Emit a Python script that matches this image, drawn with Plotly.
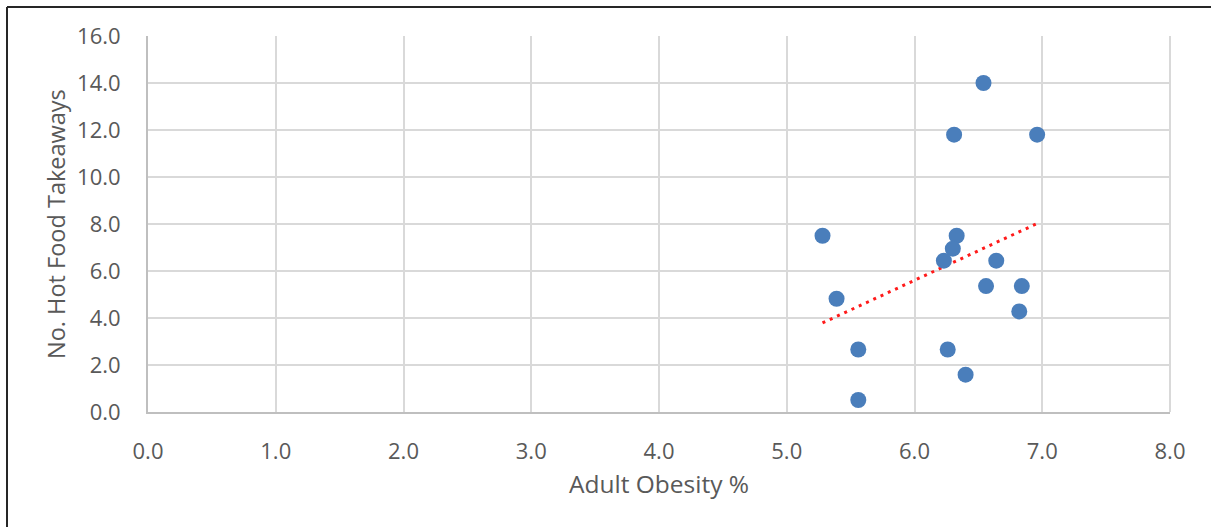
import numpy as np
import plotly.graph_objects as go

# Adult obesity (%) against number of hot food takeaways, one point per area
obesity = [6.54, 6.31, 6.96, 5.28, 6.33, 6.30, 6.23, 6.64,
           5.39, 6.56, 6.84, 6.82, 5.56, 6.26, 6.40, 5.56]
takeaways = [14.0, 11.8, 11.8, 7.5, 7.5, 6.95, 6.44, 6.44,
             4.82, 5.36, 5.36, 4.28, 2.66, 2.66, 1.59, 0.51]

x_ticks = [0, 1, 2, 3, 4, 5, 6, 7, 8]
y_ticks = [0, 2, 4, 6, 8, 10, 12, 14, 16]

# least-squares linear trend across the observed x span
slope, intercept = np.polyfit(obesity, takeaways, 1)
trend_x = np.array([min(obesity), max(obesity)])
trend_y = slope * trend_x + intercept

W, H = 1211, 527
ML, MR, MT, MB = 148, 41, 36, 115
PW, PH = W - ML - MR, H - MT - MB


def px_to_paper_x(px):
    return (px - ML) / PW


def px_to_paper_y(py):
    return (H - MB - py) / PH


grey_text = "#595959"
font_family = "Open Sans, Lato, sans-serif"

fig = go.Figure()
fig.add_trace(go.Scatter(
    x=trend_x, y=trend_y, mode="lines",
    line=dict(color="#ff1a1a", width=3, dash="3px,5px"),
    hoverinfo="skip", showlegend=False,
))
fig.add_trace(go.Scatter(
    x=obesity, y=takeaways, mode="markers",
    marker=dict(size=16, color="#4a7ebb", line=dict(width=0)),
    showlegend=False,
))

axis_common = dict(
    showgrid=True, gridcolor="#d9d9d9", gridwidth=2,
    zeroline=False, showline=True, linecolor="#bfbfbf", linewidth=2,
    ticks="", tickformat=".1f",
    tickfont=dict(family=font_family, size=22, color=grey_text),
    fixedrange=True,
)

fig.update_layout(
    width=W, height=H,
    margin=dict(l=ML, r=MR, t=MT, b=MB),
    paper_bgcolor="white", plot_bgcolor="white",
    xaxis=dict(range=[0, 8], tickvals=x_ticks, ticklabelstandoff=19,
               mirror=False, **axis_common),
    yaxis=dict(range=[0, 16], tickvals=y_ticks, ticklabelstandoff=21,
               **axis_common),
    shapes=[
        dict(type="line", xref="paper", yref="paper",
             x0=px_to_paper_x(7), x1=px_to_paper_x(W + 5),
             y0=px_to_paper_y(7), y1=px_to_paper_y(7),
             line=dict(color="#262626", width=2)),
        dict(type="line", xref="paper", yref="paper",
             x0=px_to_paper_x(7), x1=px_to_paper_x(7),
             y0=px_to_paper_y(7), y1=px_to_paper_y(H + 5),
             line=dict(color="#262626", width=2)),
        dict(type="line", xref="paper", yref="paper",
             x0=1, x1=1, y0=0, y1=1,
             line=dict(color="#d9d9d9", width=2)),
    ],
    annotations=[
        dict(text="Adult Obesity %", xref="paper", yref="paper",
             x=0.5, y=px_to_paper_y(483), xanchor="center", yanchor="middle",
             showarrow=False,
             font=dict(family=font_family, size=24.5, color=grey_text)),
        dict(text="No. Hot Food Takeaways", xref="paper", yref="paper",
             x=px_to_paper_x(56), y=0.5, xanchor="center", yanchor="middle",
             textangle=-90, showarrow=False,
             font=dict(family=font_family, size=23.5, color=grey_text)),
    ],
)

fig.write_html("out.html")
